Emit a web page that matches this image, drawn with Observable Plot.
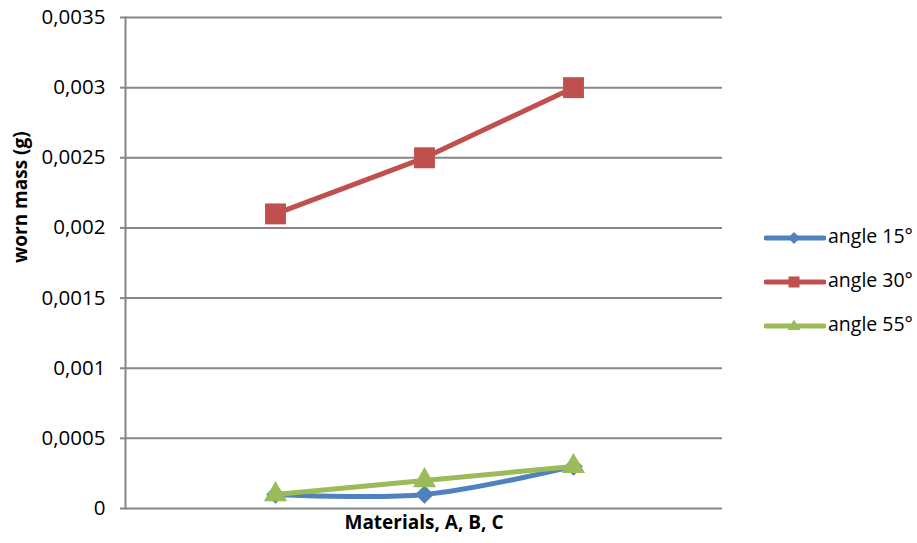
<!DOCTYPE html>
<html>
<head>
<meta charset="utf-8">
<script src="https://cdn.jsdelivr.net/npm/d3@7"></script>
<script src="https://cdn.jsdelivr.net/npm/@observablehq/plot@0.6"></script>
<style>
  html, body { margin: 0; padding: 0; background: white; }
  #wrap { position: relative; width: 917px; height: 543px; font-family: "Open Sans", sans-serif; }
  #legend { position: absolute; left: 764px; top: 0; }
  .item { position: absolute; left: 0; height: 24px; white-space: nowrap; font-size: 19.5px; color: #000; }
  .item svg { position: absolute; left: 0; top: 0; }
  .item span { position: absolute; left: 64px; top: -2px; line-height: 24px; }
</style>
</head>
<body>
<div id="wrap"></div>
<script>
const categories = ["A", "B", "C"];
const seriesNames = ["angle 15°", "angle 30°", "angle 55°"];
const angle15 = [0.0001, 0.0001, 0.0003];
const angle30 = [0.0021, 0.0025, 0.003];
const angle55 = [0.0001, 0.0002, 0.0003];
const yTicks = [0, 0.0005, 0.001, 0.0015, 0.002, 0.0025, 0.003, 0.0035];
const yTickLabels = ["0", "0,0005", "0,001", "0,0015", "0,002", "0,0025", "0,003", "0,0035"];
const colors = ["#4F81BD", "#C0504D", "#9BBB59"];
const symbols = ["diamond2", "square", "triangle"];
const radii = [8.4, 11.8, 8.6];
const curves = ["cardinal", "linear", "linear"];

const seriesValues = [angle15, angle30, angle55];
const rows = seriesNames.map((s, si) => categories.map((c, i) => ({series: s, cat: c, value: seriesValues[si][i]})));

const marks = [
  Plot.ruleY(yTicks.filter(d => d > 0), {stroke: "#868686", strokeWidth: 2, strokeOpacity: 1}),
  Plot.axisY({ticks: yTicks, tickFormat: d => yTickLabels[yTicks.indexOf(d)], tickSize: 5, tickPadding: 15,
              stroke: "#868686", strokeWidth: 2, strokeOpacity: 1, fill: "#000", fontSize: 20.5, label: null}),
  Plot.frame({anchor: "left", stroke: "#868686", strokeWidth: 2, strokeOpacity: 1}),
  Plot.ruleY([0], {stroke: "#868686", strokeWidth: 2, strokeOpacity: 1}),
  Plot.text(["worn mass (g)"], {frameAnchor: "left", rotate: -90, dx: -105, fontWeight: "bold", fontSize: 19, fill: "#000"}),
  Plot.text(["Materials, A, B, C"], {frameAnchor: "bottom", dy: 20, fontWeight: "bold", fontSize: 19, fill: "#000"})
];
rows.forEach((data, si) => {
  marks.push(Plot.line(data, {x: "cat", y: "value", stroke: colors[si], strokeWidth: 5, curve: curves[si], tension: 0}));
  marks.push(Plot.dot(data, {x: "cat", y: "value", symbol: symbols[si], r: radii[si], fill: colors[si], stroke: "none"}));
});

const chart = Plot.plot({
  width: 917,
  height: 543,
  marginLeft: 125,
  marginRight: 195,
  marginTop: 17,
  marginBottom: 35,
  style: {fontFamily: "Open Sans, sans-serif", fontSize: "20px", background: "white", color: "#000", overflow: "visible"},
  x: {type: "point", domain: categories, padding: 1, axis: null},
  y: {domain: [0, 0.0035], axis: null},
  marks
});
const wrap = document.getElementById("wrap");
wrap.appendChild(chart);

// Legend
const legend = document.createElement("div");
legend.id = "legend";
const tops = [226, 270, 314];
const legendShapes = [
  c => `<path d="M30,6 L36,12 L30,18 L24,12 Z" fill="${c}"/>`,
  c => `<rect x="24.5" y="6.5" width="11" height="11" fill="${c}"/>`,
  c => `<path d="M30,5.5 L36.5,16 L23.5,16 Z" fill="${c}"/>`
];
seriesNames.forEach((name, i) => {
  const item = document.createElement("div");
  item.className = "item";
  item.style.top = tops[i] + "px";
  item.innerHTML = `<svg width="62" height="24"><line x1="2" x2="60" y1="12" y2="12" stroke="${colors[i]}" stroke-width="5" stroke-linecap="round"/>${legendShapes[i](colors[i])}</svg><span>${name}</span>`;
  legend.appendChild(item);
});
wrap.appendChild(legend);
</script>
</body>
</html>
